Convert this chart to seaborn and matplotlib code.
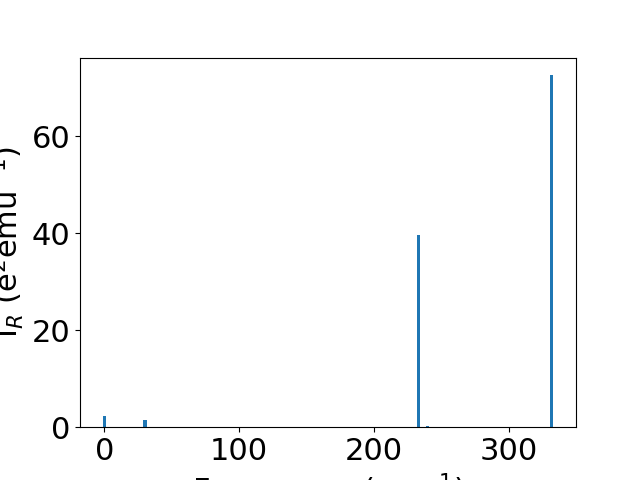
import numpy as np
import matplotlib
matplotlib.use("Agg")
import matplotlib.pyplot as plt
import seaborn as sns

# IR active modes
frequency = [0.0, 30.2, 233.2, 240.0, 332.0]
intensity = [2.3, 1.4, 39.6, 0.2, 72.6]

plt.rcParams['font.size'] = 22

fig, ax = plt.subplots(figsize=(6.4, 4.8), dpi=100)
# native_scale width is relative to the smallest spacing (~7 cm-1)
sns.barplot(x=frequency, y=intensity, native_scale=True, width=2.5 / 6.8,
            color='#1f77b4', saturation=1, ax=ax)
ax.set_xlabel(r"Frequency (cm$^{-1}$)")
ax.set_ylabel(r"I$_R$ (e$^2$emu$^{-1}$)")
plt.savefig("out.png")
